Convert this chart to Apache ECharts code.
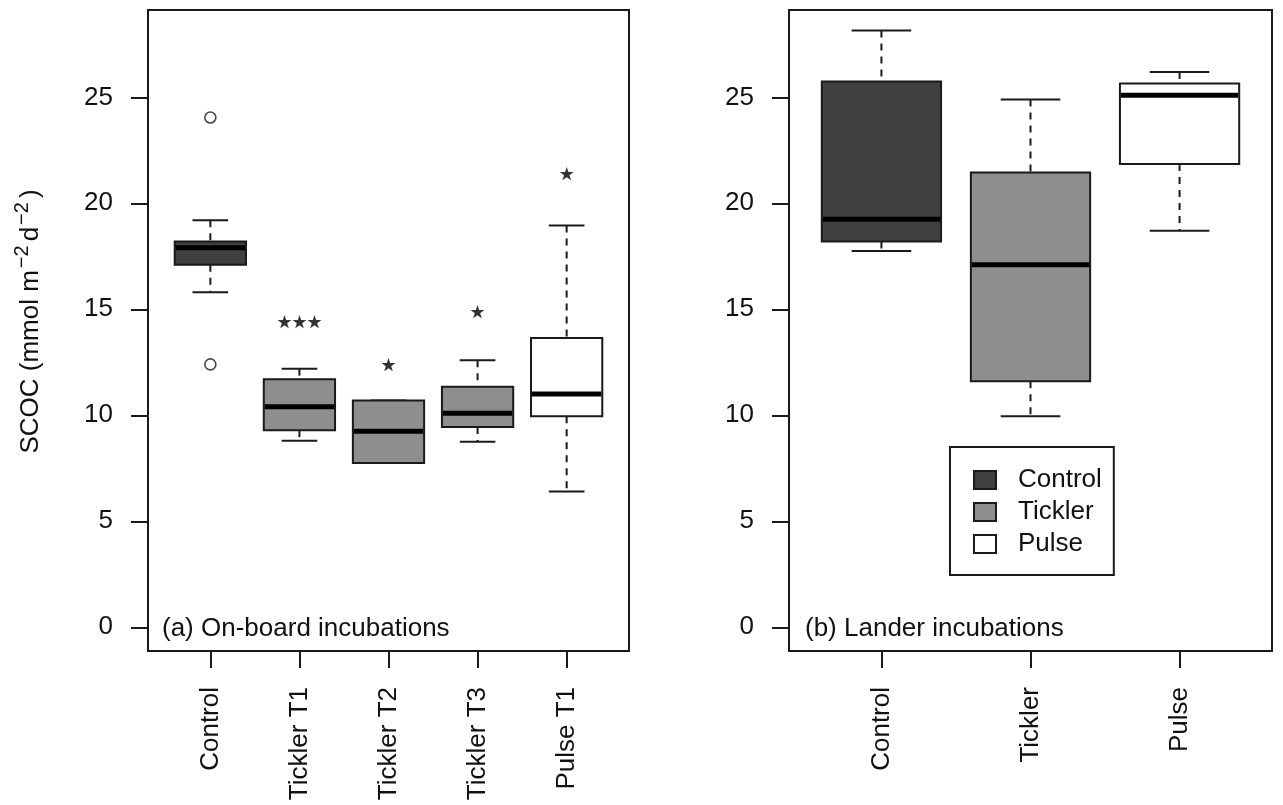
<!DOCTYPE html>
<html>
<head>
<meta charset="utf-8">
<title>SCOC boxplots</title>
<script src="https://cdn.jsdelivr.net/npm/echarts@6/dist/echarts.min.js"></script>
<style>
  html, body { margin: 0; padding: 0; background: #fff; }
  #chart { width: 1283px; height: 805px; }
</style>
</head>
<body>
<div id="chart"></div>
<script>
// ---- data ----
const onboardCats = ["Control", "Tickler T1", "Tickler T2", "Tickler T3", "Pulse T1"];
// five-number summaries: lower whisker, Q1, median, Q3, upper whisker
const onboardLow = [15.8, 8.8, 7.75, 8.75, 6.4];
const onboardQ1 = [17.1, 9.3, 7.75, 9.45, 9.95];
const onboardMed = [17.9, 10.4, 9.25, 10.1, 11.0];
const onboardQ3 = [18.2, 11.7, 10.7, 11.35, 13.65];
const onboardHigh = [19.2, 12.2, 10.7, 12.6, 18.95];
const onboardFill = ["#404040", "#8e8e8e", "#8e8e8e", "#8e8e8e", "#ffffff"];
// outliers: [category index, value]
const onboardOutliers = [[0, 24.05], [0, 12.4]];
// significance marks
const starText = ["", "★★★", "★", "★", "★"];
const starY = [null, 14.45, 12.4, 14.9, 21.4];

const landerCats = ["Control", "Tickler", "Pulse"];
const landerLow = [17.75, 9.95, 18.7];
const landerQ1 = [18.2, 11.6, 21.85];
const landerMed = [19.25, 17.1, 25.1];
const landerQ3 = [25.75, 21.45, 25.65];
const landerHigh = [28.15, 24.9, 26.2];
const landerFill = ["#404040", "#8e8e8e", "#ffffff"];

const yTicks = [0, 5, 10, 15, 20, 25];

// ---- styling ----
const FONT = "Liberation Sans, Arial, sans-serif";
const FS = 26;
const INK = "#1a1a1a";
const BOX_HALF = 0.4;
const CAP_HALF = 0.2;

function renderBox(params, api) {
  const x = api.value(0);
  const top = api.coord([x, api.value(5)]);
  const bot = api.coord([x, api.value(1)]);
  const tl = api.coord([x - BOX_HALF, api.value(4)]);
  const br = api.coord([x + BOX_HALF, api.value(2)]);
  const mid = api.coord([x, api.value(3)]);
  const capL = api.coord([x - CAP_HALF, 0])[0];
  const capR = api.coord([x + CAP_HALF, 0])[0];
  const fill = api.visual("color");
  const whisker = { stroke: INK, lineWidth: 2, lineDash: [7, 6] };
  const solid = { stroke: INK, lineWidth: 2 };
  return {
    type: "group",
    children: [
      { type: "line", shape: { x1: top[0], y1: top[1], x2: top[0], y2: tl[1] }, style: whisker },
      { type: "line", shape: { x1: bot[0], y1: br[1], x2: bot[0], y2: bot[1] }, style: whisker },
      { type: "line", shape: { x1: capL, y1: top[1], x2: capR, y2: top[1] }, style: solid },
      { type: "line", shape: { x1: capL, y1: bot[1], x2: capR, y2: bot[1] }, style: solid },
      {
        type: "rect",
        shape: { x: tl[0], y: tl[1], width: br[0] - tl[0], height: br[1] - tl[1] },
        style: { fill: fill, stroke: INK, lineWidth: 2 }
      },
      { type: "line", shape: { x1: tl[0] + 1, y1: mid[1], x2: br[0] - 1, y2: mid[1] }, style: { stroke: "#000", lineWidth: 5 } }
    ]
  };
}

function boxRow(i, low, q1, med, q3, high) {
  return [i + 1, low[i], q1[i], med[i], q3[i], high[i]];
}

function yAxisFor(gridIndex, withName) {
  const ax = {
    type: "value",
    gridIndex: gridIndex,
    min: -1.12,
    max: 29.12,
    splitLine: { show: false },
    axisLine: { show: false, onZero: false },
    axisTick: { show: true, length: 17, customValues: yTicks, lineStyle: { color: INK, width: 2 } },
    axisLabel: { customValues: yTicks, margin: 35, fontSize: FS, fontFamily: FONT, color: "#111" }
  };
  if (withName) {
    ax.name = "{a|SCOC (mmol m}{s|−2}{a|d}{s|−2}{a|)}";
    ax.nameLocation = "middle";
    ax.nameRotate = 90;
    ax.nameGap = 98;
    ax.nameTextStyle = {
      padding: [0, 0, 0, 18],
      rich: {
        a: { fontSize: FS, fontFamily: FONT, color: "#111", lineHeight: 38 },
        s: { fontSize: 20, fontFamily: FONT, color: "#111", lineHeight: 20, verticalAlign: "top", padding: [0, 4, 0, 2] }
      }
    };
  }
  return ax;
}

function xAxisFor(gridIndex, cats, pad) {
  const ticks = cats.map((c, i) => i + 1);
  return {
    type: "value",
    gridIndex: gridIndex,
    min: 0.5 - pad,
    max: cats.length + 0.5 + pad,
    splitLine: { show: false },
    axisLine: { show: false, onZero: false },
    axisTick: { show: true, length: 17, customValues: ticks, lineStyle: { color: INK, width: 2 } },
    axisLabel: {
      customValues: ticks,
      rotate: 90,
      margin: 36,
      fontSize: FS,
      fontFamily: FONT,
      color: "#111",
      formatter: v => cats[Math.round(v) - 1] || ""
    }
  };
}

const chart = echarts.init(document.getElementById("chart"), null, { renderer: "canvas" });

const onboardData = onboardCats.map((c, i) => ({
  value: boxRow(i, onboardLow, onboardQ1, onboardMed, onboardQ3, onboardHigh),
  itemStyle: { color: onboardFill[i] }
}));

const starData = [];
starText.forEach((t, i) => {
  if (t) starData.push({ value: [i + 1, starY[i]], name: t });
});

const landerSeries = landerCats.map((c, i) => ({
  name: c,
  type: "custom",
  xAxisIndex: 1,
  yAxisIndex: 1,
  renderItem: renderBox,
  itemStyle: { color: landerFill[i], borderColor: INK, borderWidth: 2 },
  encode: { x: 0, y: [1, 2, 3, 4, 5] },
  data: [boxRow(i, landerLow, landerQ1, landerMed, landerQ3, landerHigh)],
  z: 3
}));

const panelText = { fontSize: FS, fontWeight: "normal", fontFamily: FONT, color: "#111" };

const option = {
  backgroundColor: "#fff",
  animation: false,
  grid: [
    { left: 148, top: 10, width: 481, height: 641, show: true, borderColor: INK, borderWidth: 2, backgroundColor: "transparent" },
    { left: 789, top: 10, width: 483, height: 641, show: true, borderColor: INK, borderWidth: 2, backgroundColor: "transparent" }
  ],
  xAxis: [xAxisFor(0, onboardCats, 0.2), xAxisFor(1, landerCats, 0.12)],
  yAxis: [yAxisFor(0, true), yAxisFor(1, false)],
  title: [
    { text: "(a) On-board incubations", left: 162, top: 616, padding: 0, textStyle: panelText },
    { text: "(b) Lander incubations", left: 805, top: 616, padding: 0, textStyle: panelText }
  ],
  legend: {
    data: landerCats,
    orient: "vertical",
    left: 950,
    top: 447,
    padding: [20, 12, 18, 23],
    itemGap: 6,
    itemWidth: 22,
    itemHeight: 18,
    icon: "rect",
    borderColor: INK,
    borderWidth: 2,
    itemStyle: { borderColor: INK, borderWidth: 2 },
    textStyle: { fontSize: FS, fontFamily: FONT, color: "#111", padding: [0, 0, 0, 17] }
  },
  series: [
    {
      name: "On-board",
      type: "custom",
      xAxisIndex: 0,
      yAxisIndex: 0,
      renderItem: renderBox,
      encode: { x: 0, y: [1, 2, 3, 4, 5] },
      data: onboardData,
      z: 3
    },
    {
      name: "Outliers",
      type: "scatter",
      xAxisIndex: 0,
      yAxisIndex: 0,
      symbol: "circle",
      symbolSize: 11,
      itemStyle: { color: "rgba(255,255,255,0)", borderColor: INK, borderWidth: 1.6 },
      data: onboardOutliers.map(p => [p[0] + 1, p[1]]),
      z: 4
    },
    {
      name: "Significance",
      type: "scatter",
      xAxisIndex: 0,
      yAxisIndex: 0,
      symbolSize: 1,
      itemStyle: { color: "rgba(0,0,0,0)" },
      label: {
        show: true,
        position: "inside",
        formatter: p => p.name,
        fontSize: 15,
        fontFamily: "Noto Sans CJK SC",
        color: "#000"
      },
      data: starData,
      z: 4
    }
  ].concat(landerSeries)
};

chart.setOption(option);
</script>
</body>
</html>
